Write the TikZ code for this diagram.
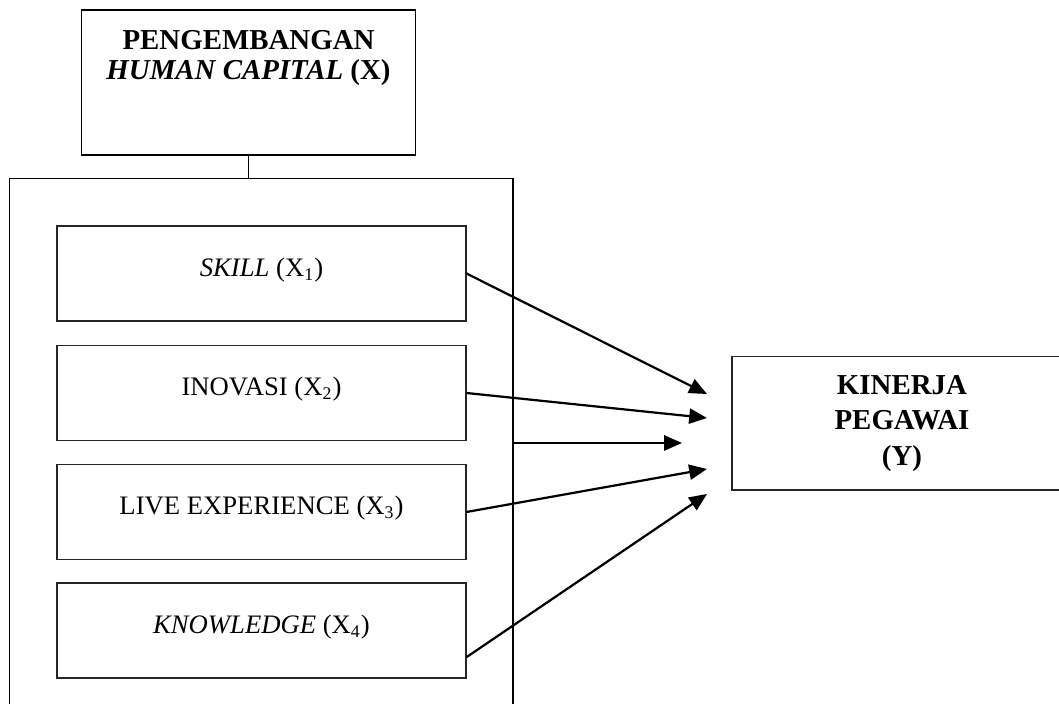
\documentclass[tikz,border=0pt]{standalone}
\usepackage{fontspec}
\setmainfont{Liberation Serif}
\usetikzlibrary{arrows.meta}

\begin{document}
\begin{tikzpicture}[x=0.45pt, y=-0.45pt,
block/.style = {rectangle, draw=black!85, line width=0.5pt, minimum width=184pt, minimum height=42.75pt, font=\fontsize{12}{14}\selectfont, text height=9pt, text depth=6.4pt},
frame/.style = {rectangle, draw=black, line width=0.8pt, minimum width=226.6pt, minimum height=237.4pt},
head/.style = {font=\fontsize{13}{13.5}\selectfont\bfseries, align=center},
link/.style = {line width=1pt, -{Triangle[length=8pt, width=6.8pt]}}]

  \useasboundingbox (0,0) rectangle (1059,704);

  \node[rectangle, draw, line width=0.5pt, minimum width=149.9pt, minimum height=65.25pt] (hc_box) at (248.5,82.5) {};
  \node[head] (hc_text) at (248.5,58.5) {PENGEMBANGAN\\\textit{HUMAN CAPITAL} (X)};

  \node[frame] (x_box) at (261.25,442.25) {};
  \node[block] (x1_box) at (261.5,273.5) {\textit{SKILL} (X\textsubscript{1})};
  \node[block] (x2_box) at (261.5,393) {INOVASI (X\textsubscript{2})};
  \node[block] (x3_box) at (261.5,512) {LIVE EXPERIENCE (X\textsubscript{3})};
  \node[block] (x4_box) at (261.5,630.5) {\textit{KNOWLEDGE} (X\textsubscript{4})};

  \node[rectangle, draw=black!85, line width=0.5pt, minimum width=153pt, minimum height=59.9pt, head, font=\fontsize{13}{16}\selectfont\bfseries] (y_box) at (902,423.5) {KINERJA\\PEGAWAI\\(Y)};

  \coordinate (t1) at (707,394);
  \coordinate (t2) at (707,418);
  \coordinate (t3) at (682,443);
  \coordinate (t4) at (707,469);
  \coordinate (t5) at (707,494);

  \draw[line width=0.8pt] (hc_box.south) -- (hc_box.south |- x_box.north);

  \draw[link] (x1_box.east) -- (t1);
  \draw[link] (x2_box.east) -- (t2);
  \draw[link] (t3 -| x_box.east) -- (t3);
  \draw[link] (x3_box.east) -- (t4);
  \draw[link] ([yshift=-12pt]x4_box.east) -- (t5);

\end{tikzpicture}
\end{document}
